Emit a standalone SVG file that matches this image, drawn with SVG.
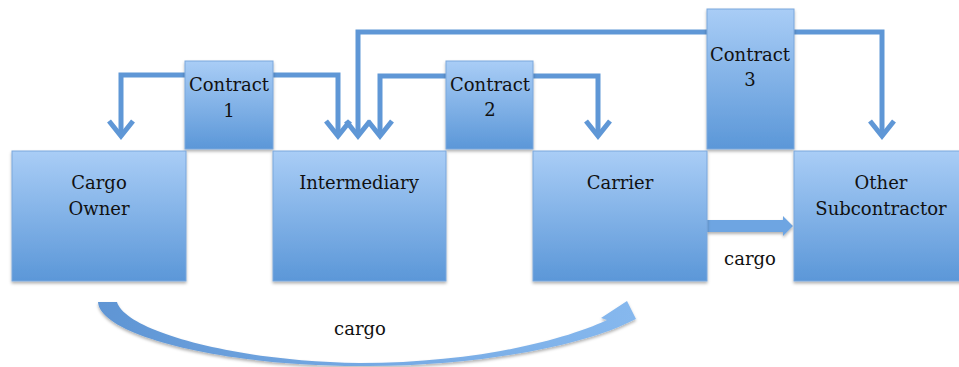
<svg xmlns="http://www.w3.org/2000/svg" width="959" height="367" viewBox="0 0 959 367">
<defs>
<linearGradient id="boxg" x1="0" y1="0" x2="0" y2="1">
<stop offset="0" stop-color="#a9cdf6"/>
<stop offset="1" stop-color="#5b97d8"/>
</linearGradient>
<linearGradient id="curveg" x1="0" y1="0" x2="1" y2="0">
<stop offset="0" stop-color="#5f95d4"/>
<stop offset="0.5" stop-color="#75a9e3"/>
<stop offset="1" stop-color="#86b8ee"/>
</linearGradient>
<filter id="sh" x="-10%" y="-10%" width="120%" height="130%">
<feDropShadow dx="0" dy="2" stdDeviation="1.5" flood-color="#000" flood-opacity="0.3"/>
</filter>
<marker id="chev" markerUnits="userSpaceOnUse" viewBox="-20 -16 24 32" markerWidth="24" markerHeight="32" refX="0" refY="0" orient="auto">
<path d="M-15,-12 L0,0 L-15,12" fill="none" stroke="#5f97d6" stroke-width="5" stroke-linejoin="miter"/>
</marker>
</defs>
<style>
.box{fill:url(#boxg);stroke:#7ba7dc;stroke-width:1;filter:url(#sh);}
.lbl{font-family:"DejaVu Serif","Liberation Serif",serif;font-size:18px;fill:#111;text-anchor:middle;}
.con{fill:none;stroke:#5f97d6;stroke-width:5;stroke-linejoin:miter;marker-end:url(#chev);}
</style>
<rect width="959" height="367" fill="#fff"/>
<g id="connectors">
<path class="con" d="M186,75 H121 V136"/>
<path class="con" d="M272,75 H338 V136"/>
<path class="con" d="M447,76 H380 V136"/>
<path class="con" d="M532,76 H598 V136"/>
<path class="con" d="M708,32 H358 V136"/>
<path class="con" d="M793,32 H882 V136"/>
<path d="M707,220 H783 V216 L793,226 L783,236 V232 H707 Z" fill="#6ea5e2" filter="url(#sh)"/>
<path d="M98,302 L117,302 C125,330 230,361 360,363 C470,363 560,342 607,320 L601,318 L627,301 L636,319 L621,326 C570,348 470,367 360,366 C220,366 100,335 98,302 Z" fill="url(#curveg)" filter="url(#sh)"/>
<text class="lbl" x="750" y="265">cargo</text>
<text class="lbl" x="360" y="335">cargo</text>
</g>
<g id="contract1"><rect class="box" x="185" y="61" width="88" height="88"/><text class="lbl" x="229" y="91">Contract</text><text class="lbl" x="229" y="117">1</text></g>
<g id="contract2"><rect class="box" x="446" y="61" width="87" height="88"/><text class="lbl" x="490" y="91">Contract</text><text class="lbl" x="490" y="116">2</text></g>
<g id="contract3"><rect class="box" x="707" y="9" width="87" height="140"/><text class="lbl" x="750" y="61">Contract</text><text class="lbl" x="750" y="86">3</text></g>
<g id="cargo-owner"><rect class="box" x="12" y="151" width="174" height="130"/><text class="lbl" x="99" y="189">Cargo</text><text class="lbl" x="99" y="215">Owner</text></g>
<g id="intermediary"><rect class="box" x="273" y="151" width="173" height="130"/><text class="lbl" x="359" y="189">Intermediary</text></g>
<g id="carrier"><rect class="box" x="533" y="151" width="174" height="130"/><text class="lbl" x="620" y="189">Carrier</text></g>
<g id="other-subcontractor"><rect class="box" x="794" y="151" width="170" height="130"/><text class="lbl" x="881" y="189">Other</text><text class="lbl" x="881" y="215">Subcontractor</text></g>
</svg>
